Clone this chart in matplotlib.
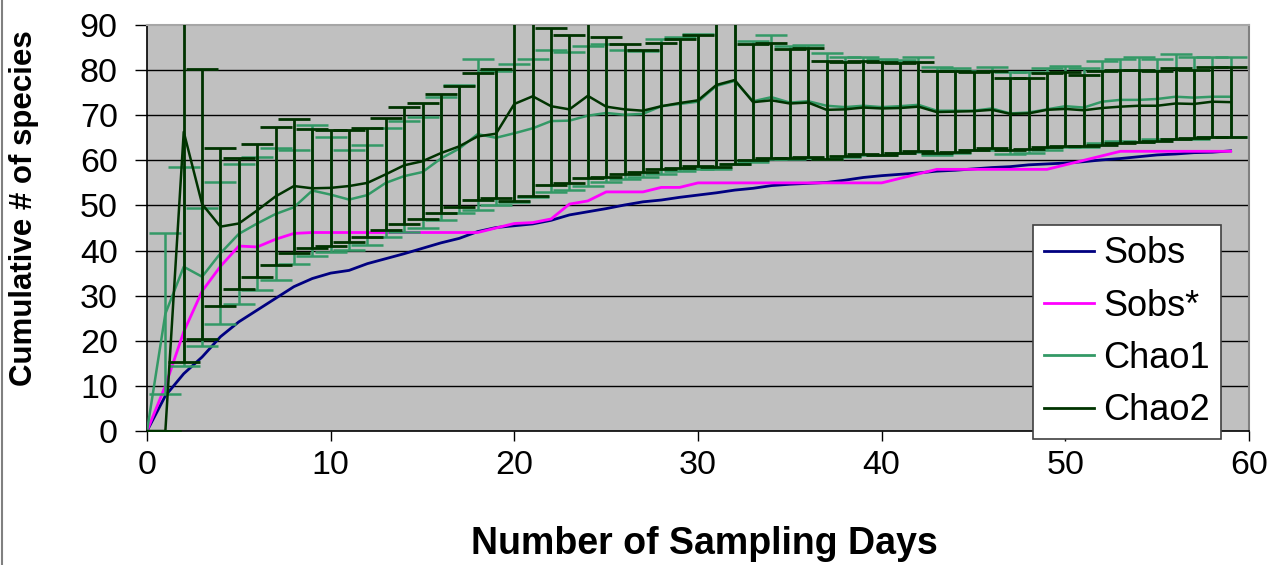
import numpy as np
import matplotlib
matplotlib.use("Agg")
import matplotlib.pyplot as plt
from matplotlib.lines import Line2D

plt.rcParams['font.family'] = ['Liberation Sans', 'DejaVu Sans']

days = list(range(60))

sobs = [0, 7.8, 12.7, 16.4, 20.9, 24.2, 26.8, 29.4, 32.0, 33.8,
        35.0, 35.6, 37.1, 38.2, 39.3, 40.5, 41.7, 42.7, 44.2, 45.1,
        45.5, 45.9, 46.7, 47.9, 48.6, 49.3, 50.1, 50.8, 51.2, 51.8,
        52.3, 52.8, 53.4, 53.8, 54.4, 54.7, 54.9, 55.1, 55.6, 56.2,
        56.6, 56.9, 57.2, 57.6, 57.8, 58.1, 58.4, 58.6, 59.0, 59.2,
        59.4, 59.7, 60.1, 60.4, 60.8, 61.2, 61.4, 61.7, 61.8, 62.1]

sobs_star = [0, 10, 22, 31, 36.5, 41, 40.8, 42.5, 43.8, 44,
             44, 44, 44, 44, 44, 44, 44, 44, 44, 45,
             46, 46.2, 47, 50.3, 51, 53, 53, 53, 54, 54,
             55, 55, 55, 55, 55, 55, 55, 55, 55, 55,
             55, 56, 57, 58, 58, 58, 58, 58, 58, 58,
             59, 60, 61, 62, 62, 62, 62, 62, 62, 62]

chao1 = [0, 26.0, 36.4, 34.2, 39.4, 43.7, 46.0, 48.1, 49.6, 53.3,
         52.4, 51.3, 52.3, 55.0, 56.5, 57.4, 60.4, 62.6, 65.8, 65.0,
         66.0, 67.1, 68.7, 68.8, 69.9, 70.5, 70.1, 70.3, 72.0, 72.5,
         73.0, 76.5, 77.6, 73.1, 74.0, 72.8, 73.1, 72.1, 71.8, 72.1,
         71.8, 72.0, 72.3, 71.0, 71.0, 71.0, 71.5, 70.4, 70.6, 71.3,
         72.0, 71.7, 73.0, 73.4, 73.4, 73.6, 74.1, 73.9, 74.1, 74.1]
chao1_sd = [0, 17.8, 22.1, 15.3, 15.7, 15.5, 14.8, 14.7, 12.6, 14.5,
            12.8, 11.1, 11.0, 12.1, 12.3, 12.3, 13.6, 14.2, 16.7, 14.9,
            15.3, 15.3, 15.8, 15.3, 15.5, 15.3, 14.3, 14.0, 15.0, 14.9,
            14.9, 18.4, 18.5, 13.4, 13.7, 12.6, 12.5, 11.8, 11.0, 10.9,
            10.6, 10.3, 10.5, 9.8, 9.4, 8.8, 9.1, 9.1, 8.9, 9.1,
            9.0, 8.8, 9.1, 9.1, 9.4, 8.9, 9.4, 9.1, 8.9, 8.9]

chao2 = [0, 0, 66.3, 50.3, 45.3, 46.0, 48.9, 52.0, 54.3, 53.8,
         53.9, 54.3, 55.0, 56.9, 58.9, 59.8, 61.6, 63.1, 65.3, 65.9,
         72.5, 74.2, 72.0, 71.3, 74.3, 71.9, 71.3, 71.0, 72.0, 72.7,
         73.3, 76.7, 77.8, 72.9, 73.3, 72.6, 72.8, 71.2, 71.3, 71.7,
         71.5, 71.6, 71.9, 70.7, 70.8, 70.9, 71.2, 70.3, 70.4, 71.2,
         71.4, 71.1, 71.6, 71.9, 72.1, 72.1, 72.6, 72.5, 73.0, 72.9]
chao2_sd = [0, 0, 51.1, 30.0, 17.5, 14.6, 14.8, 15.3, 14.8, 13.2,
            12.8, 12.5, 12.1, 12.4, 13.0, 12.8, 13.2, 13.4, 14.1, 14.3,
            21.5, 22.1, 17.4, 16.4, 18.3, 15.5, 14.4, 13.5, 13.9, 14.3,
            14.5, 18.1, 18.7, 12.8, 12.7, 12.0, 12.0, 10.8, 10.4, 10.4,
            10.3, 9.9, 9.8, 9.0, 8.9, 8.6, 8.5, 7.9, 7.8, 8.2,
            8.2, 7.9, 8.2, 8.1, 8.0, 7.8, 7.9, 7.6, 7.8, 7.7]

fig = plt.figure(figsize=(12.84, 5.65), dpi=100)
ax = fig.add_axes([147/1284, 1-431/565, 1102/1284, 406/565])
ax.set_facecolor('#C0C0C0')

for y in range(10, 90, 10):
    ax.axhline(y, color='black', lw=1.0, zorder=1)

ax.plot(days, sobs, color='#000080', lw=2.0, label='Sobs', zorder=3)
ax.plot(days, sobs_star, color='#FF00FF', lw=2.0, label='Sobs*', zorder=3)
ax.errorbar(days, chao1, yerr=chao1_sd, color='#339966', lw=1.8,
            elinewidth=1.8, capsize=11.5, capthick=1.8, label='Chao1', zorder=4)
ax.errorbar(days, chao2, yerr=chao2_sd, color='#003300', lw=1.8,
            elinewidth=2.0, capsize=11.5, capthick=2.0, label='Chao2', zorder=5)

ax.set_xlim(0, 60)
ax.set_ylim(0, 90)
ax.set_xticks(range(0, 61, 10))
ax.set_yticks(range(0, 91, 10))
ax.tick_params(axis='y', direction='out', length=9, width=1, pad=12, labelsize=24.5)
ax.tick_params(axis='x', direction='out', length=7, width=1, pad=7, labelsize=24.5)

for s in ['left', 'bottom']:
    ax.spines[s].set_color('black')
    ax.spines[s].set_linewidth(1.2)
ax.spines['top'].set_color('#A6A6A6')
ax.spines['right'].set_color('#808080')
ax.spines['top'].set_linewidth(1.5)
ax.spines['right'].set_linewidth(1.5)

ax.set_xlabel('Number of Sampling Days', fontsize=27, fontweight='bold')
ax.xaxis.set_label_coords(0.506, -0.235)
ax.set_ylabel('Cumulative # of species', fontsize=22.5, fontweight='bold')
ax.yaxis.set_label_coords(-0.098, 0.55)

handles = [Line2D([], [], color=c, lw=2) for c in ['#000080', '#FF00FF', '#339966', '#003300']]
leg = ax.legend(handles, ['Sobs', 'Sobs*', 'Chao1', 'Chao2'], loc='lower left',
                bbox_to_anchor=(0.804, -0.02), fontsize=26, frameon=True,
                fancybox=False, edgecolor='#404040', framealpha=1,
                handlelength=1.4, handletextpad=0.25, labelspacing=0.48,
                borderpad=0.3, borderaxespad=0)
leg.get_frame().set_linewidth(1.2)
leg.set_zorder(10)

fig.add_artist(Line2D([2/1284, 2/1284], [0, 1], color='#808080', lw=1.5))

fig.savefig('out.png', dpi=100)
